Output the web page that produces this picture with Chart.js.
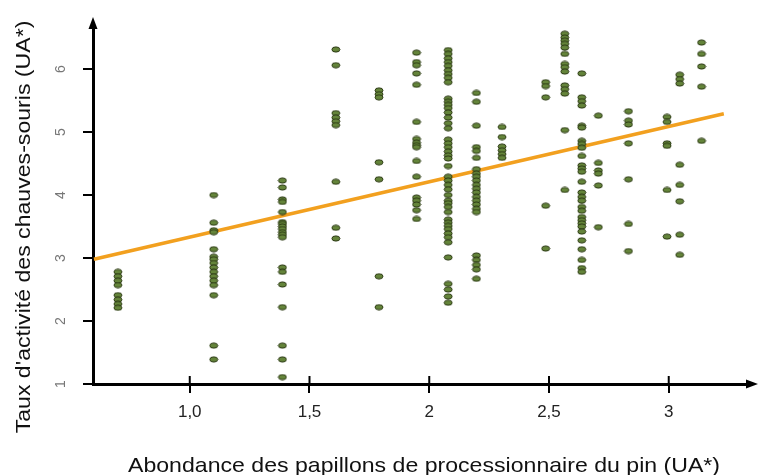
<!DOCTYPE html>
<html>
<head>
<meta charset="utf-8">
<script src="https://cdn.jsdelivr.net/npm/chart.js@4.4.1/dist/chart.umd.min.js"></script>
<style>
  body { margin: 0; background: #fff; }
  #wrap { width: 760px; height: 475px; }
</style>
</head>
<body>
<div id="wrap"><canvas id="myChart"></canvas></div>
<script>
// x positions of the point columns
const columnX = [0.70, 1.10, 1.387, 1.61, 1.79, 1.947, 2.079, 2.197, 2.304, 2.486, 2.566, 2.637, 2.706, 2.832, 2.993, 3.046, 3.137];

// bat activity values for each column
const col070 = [2.78, 2.71, 2.64, 2.57, 2.41, 2.34, 2.27, 2.21];
const col110 = [4.00, 3.56, 3.44, 3.41, 3.14, 3.02, 2.98, 2.92, 2.85, 2.78, 2.71, 2.64, 2.57, 2.41, 1.61, 1.39];
const col139 = [4.23, 4.12, 3.93, 3.89, 3.73, 3.57, 3.54, 3.50, 3.46, 3.41, 3.37, 3.33, 2.85, 2.78, 2.58, 2.22, 1.61, 1.39, 1.11];
const col161 = [6.31, 6.06, 5.30, 5.23, 5.17, 5.11, 4.21, 3.48, 3.31];
const col179 = [5.66, 5.60, 5.55, 4.52, 4.25, 2.71, 2.22];
const col195 = [6.26, 6.11, 6.06, 5.93, 5.75, 5.16, 4.89, 4.83, 4.79, 4.76, 4.54, 4.29, 3.96, 3.91, 3.85, 3.76, 3.62];
const col208 = [6.30, 6.24, 6.17, 6.11, 6.05, 5.98, 5.92, 5.86, 5.79, 5.53, 5.48, 5.43, 5.38, 5.31, 5.23, 5.14, 5.06,
                4.88, 4.82, 4.76, 4.69, 4.63, 4.58, 4.46, 4.29, 4.23, 4.16, 4.09, 4.00, 3.91, 3.87, 3.81, 3.73,
                3.61, 3.56, 3.51, 3.46, 3.39, 3.33, 3.25, 3.01, 2.59, 2.50, 2.39, 2.29];
const col220 = [5.62, 5.48, 5.10, 4.76, 4.70, 4.59, 4.41, 4.34, 4.29, 4.23, 4.16, 4.10, 4.04, 3.97, 3.91, 3.85, 3.78, 3.73, 3.04, 2.97, 2.89, 2.82, 2.67];
const col230 = [5.08, 4.92, 4.77, 4.71, 4.65, 4.59];
const col249 = [5.79, 5.73, 5.55, 3.83, 3.15];
const col257 = [6.56, 6.50, 6.45, 6.40, 6.34, 6.24, 6.08, 6.03, 5.96, 5.74, 5.68, 5.61, 5.03, 4.08];
const col264 = [5.93, 5.55, 5.49, 5.42, 5.10, 5.07, 4.86, 4.81, 4.75, 4.62, 4.47, 4.42, 4.37, 4.21, 4.04, 3.97, 3.91,
                3.81, 3.75, 3.65, 3.60, 3.55, 3.50, 3.42, 3.28, 3.14, 2.97, 2.84, 2.78];
const col271 = [5.26, 4.51, 4.39, 4.34, 4.15, 3.49];
const col283 = [5.33, 5.18, 5.12, 4.82, 4.25, 3.54, 3.11];
const col299 = [5.24, 5.16, 4.82, 4.78, 4.08, 3.34];
const col305 = [5.91, 5.84, 5.77, 4.48, 4.16, 3.90, 3.37, 3.05];
const col314 = [6.42, 6.24, 6.04, 5.72, 4.86];
const columnY = [col070, col110, col139, col161, col179, col195, col208, col220, col230, col249, col257, col264, col271, col283, col299, col305, col314];

// regression line ends
const fitX = [0.60, 3.23];
const fitY = [2.98, 5.29];

// ticks
const xTickValues = [1.0, 1.5, 2.0, 2.5, 3.0];
const xTickLabels = ['1,0', '1,5', '2', '2,5', '3'];
const yTickValues = [1, 2, 3, 4, 5, 6];
const yTickLabels = ['1', '2', '3', '4', '5', '6'];

const xTitle = 'Abondance des papillons de processionnaire du pin (UA*)';
const yTitle = "Taux d'activité des chauves-souris (UA*)";

// ellipse marker
function makeDot() {
    const c = document.createElement('canvas');
    c.width = 10;
    c.height = 7;
    const g = c.getContext('2d');
    g.beginPath();
    g.ellipse(5, 3.5, 4, 2.6, 0, 0, Math.PI * 2);
    g.fillStyle = '#64843a';
    g.fill();
    g.lineWidth = 1;
    g.strokeStyle = '#2c3a14';
    g.stroke();
    return c;
}

const points = [];
columnX.forEach((x, i) => {
    columnY[i].forEach(y => points.push({ x: x, y: y }));
});

const extras = {
    id: 'extras',
    afterDraw(chart) {
        const ctx = chart.ctx;
        const xs = chart.scales.x;
        const ys = chart.scales.y;
        const left = chart.chartArea.left;
        const bottom = chart.chartArea.bottom;
        ctx.save();
        ctx.fillStyle = '#000';
        ctx.strokeStyle = '#000';
        ctx.lineWidth = 2;

        // inner half of x tick marks
        xTickValues.forEach(v => {
            const px = xs.getPixelForValue(v);
            ctx.beginPath();
            ctx.moveTo(px, bottom);
            ctx.lineTo(px, bottom - 8);
            ctx.stroke();
        });

        // arrow heads
        const top = chart.chartArea.top;
        ctx.beginPath();
        ctx.moveTo(left, top - 10);
        ctx.lineTo(left - 4.5, top + 2);
        ctx.lineTo(left + 4.5, top + 2);
        ctx.closePath();
        ctx.fill();
        const right = chart.chartArea.right;
        ctx.beginPath();
        ctx.moveTo(right + 10, bottom);
        ctx.lineTo(right - 2, bottom - 4.5);
        ctx.lineTo(right - 2, bottom + 4.5);
        ctx.closePath();
        ctx.fill();

        // rotated y tick labels
        ctx.fillStyle = '#777';
        ctx.font = '14px "Liberation Sans", Arial, sans-serif';
        ctx.textAlign = 'center';
        ctx.textBaseline = 'middle';
        yTickValues.forEach((v, i) => {
            const py = ys.getPixelForValue(v);
            ctx.save();
            ctx.translate(61, py);
            ctx.rotate(-Math.PI / 2);
            ctx.fillText(yTickLabels[i], 0, 0);
            ctx.restore();
        });

        // axis titles (font is a bit wide in the original)
        ctx.fillStyle = '#111';
        ctx.font = '21px "Liberation Sans", Arial, sans-serif';
        ctx.textBaseline = 'alphabetic';
        ctx.save();
        ctx.translate(424, 471.5);
        ctx.scale(1.1, 1);
        ctx.fillText(xTitle, 0, 0);
        ctx.restore();
        ctx.save();
        ctx.translate(30, 227);
        ctx.rotate(-Math.PI / 2);
        ctx.scale(1.1, 1);
        ctx.fillText(yTitle, 0, 0);
        ctx.restore();
        ctx.restore();
    }
};

document.addEventListener('DOMContentLoaded', () => {
    const ctx = document.getElementById('myChart').getContext('2d');
    new Chart(ctx, {
        type: 'scatter',
        data: {
            datasets: [
                {
                    label: 'fit',
                    type: 'line',
                    data: fitX.map((x, i) => ({ x: x, y: fitY[i] })),
                    borderColor: '#f2a01f',
                    borderWidth: 3.5,
                    pointRadius: 0,
                    fill: false,
                    order: 2
                },
                {
                    label: 'sites',
                    data: points,
                    pointStyle: makeDot(),
                    order: 1
                }
            ]
        },
        options: {
            responsive: true,
            maintainAspectRatio: false,
            animation: false,
            events: [],
            layout: { padding: { left: 0, right: 12, top: 27, bottom: 0 } },
            plugins: {
                legend: { display: false },
                tooltip: { enabled: false }
            },
            scales: {
                x: {
                    type: 'linear',
                    min: 0.596,
                    max: 3.331,
                    afterFit: s => { s.height = 91; },
                    afterBuildTicks: s => { s.ticks = xTickValues.map(v => ({ value: v })); },
                    border: { color: '#000', width: 3 },
                    grid: { drawOnChartArea: false, color: '#000', lineWidth: 2, tickLength: 9 },
                    ticks: {
                        padding: 9,
                        color: '#222',
                        font: { family: '"Liberation Sans", Arial, sans-serif', size: 17 },
                        callback: (v, i) => xTickLabels[i]
                    }
                },
                y: {
                    type: 'linear',
                    min: 1,
                    max: 6.667,
                    afterFit: s => { s.width = 93; },
                    afterBuildTicks: s => { s.ticks = yTickValues.map(v => ({ value: v })); },
                    border: { color: '#000', width: 3 },
                    grid: { drawOnChartArea: false, color: '#000', lineWidth: 2, tickLength: 10 },
                    ticks: { display: false }
                }
            }
        },
        plugins: [extras]
    });
});
</script>
</body>
</html>
